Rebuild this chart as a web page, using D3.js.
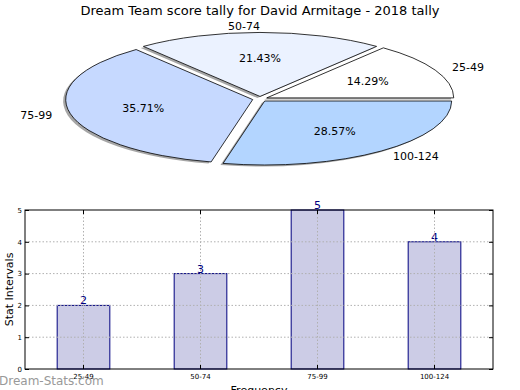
<!DOCTYPE html>
<html lang="en">
<head>
  <meta charset="UTF-8">
  <title>Dream Team score tally</title>
  <script src="https://d3js.org/d3.v7.min.js"></script>
  <style>
    body { margin: 0; background: #fff; }
    svg { font-family: "DejaVu Sans", sans-serif; }
    .grid line { stroke: #b0b0b0; stroke-dasharray: 1.5 2; stroke-width: 1; }
  </style>
</head>
<body>
  <svg id="chart" width="520" height="390"></svg>
  <script>
    // data
    const categories = ['25-49', '50-74', '75-99', '100-124'];
    const counts = [2, 3, 5, 4];
    const pieColors = ['#ffffff', '#ebf2ff', '#c6d9ff', '#b3d5ff'];
    const yTicks = [0, 1, 2, 3, 4, 5];

    const svg = d3.select('#chart');

    svg.append('text')
      .attr('x', 260).attr('y', 15)
      .attr('text-anchor', 'middle')
      .attr('font-size', 13)
      .text('Dream Team score tally for David Armitage - 2018 tally');

    // ---- pie (squashed like the matplotlib one) ----
    const cx = 260, cy = 99, rx = 187, ry = 64, explode = 0.04;
    const total = d3.sum(counts);

    // d3 angles run clockwise from 12 o'clock, go the other way from 3 o'clock
    const pie = d3.pie().sort(null).startAngle(Math.PI / 2).endAngle(Math.PI / 2 - 2 * Math.PI);
    const arcs = pie(counts).map((d, i) => {
      const t1 = Math.PI / 2 - d.startAngle;
      const t2 = Math.PI / 2 - d.endAngle;
      const mid = (t1 + t2) / 2;
      return {
        i, value: d.value, t1, t2, mid,
        ox: explode * rx * Math.cos(mid),
        oy: -explode * ry * Math.sin(mid)
      };
    });

    function wedgePath(a) {
      const x0 = cx + a.ox, y0 = cy + a.oy;
      const p = d3.path();
      p.moveTo(x0, y0);
      p.lineTo(x0 + rx * Math.cos(a.t1), y0 - ry * Math.sin(a.t1));
      const large = (a.t2 - a.t1) > Math.PI ? 1 : 0;
      return p.toString() +
        `A${rx},${ry} 0 ${large} 0 ${x0 + rx * Math.cos(a.t2)},${y0 - ry * Math.sin(a.t2)}Z`;
    }

    const pieG = svg.append('g');
    pieG.selectAll('path.shadow')
      .data(arcs).join('path')
      .attr('class', 'shadow')
      .attr('d', wedgePath)
      .attr('transform', 'translate(-2.6,1.6)')
      .attr('fill', '#4d4d4d')
      .attr('fill-opacity', 0.5);

    pieG.selectAll('path.wedge')
      .data(arcs).join('path')
      .attr('class', 'wedge')
      .attr('d', wedgePath)
      .attr('fill', d => pieColors[d.i])
      .attr('stroke', '#000')
      .attr('stroke-width', 0.8)
      .attr('stroke-linejoin', 'round');

    pieG.selectAll('text.pct')
      .data(arcs).join('text')
      .attr('class', 'pct')
      .attr('x', d => cx + d.ox + 0.6 * rx * Math.cos(d.mid))
      .attr('y', d => cy + d.oy - 0.6 * ry * Math.sin(d.mid))
      .attr('dy', '0.35em')
      .attr('text-anchor', 'middle')
      .attr('font-size', 11)
      .text(d => (d.value / total * 100).toFixed(2) + '%');

    pieG.selectAll('text.lab')
      .data(arcs).join('text')
      .attr('class', 'lab')
      .attr('x', d => cx + d.ox + 1.1 * rx * Math.cos(d.mid))
      .attr('y', d => cy + d.oy - 1.1 * ry * Math.sin(d.mid))
      .attr('dy', '0.35em')
      .attr('text-anchor', d => Math.cos(d.mid) > 1e-9 ? 'start' : 'end')
      .attr('font-size', 11)
      .text(d => categories[d.i]);

    // ---- bar chart ----
    const plotL = 25, plotR = 493, plotT = 210, plotB = 369;
    const x = d3.scaleBand().domain(categories).range([plotL, plotR])
      .paddingInner(0.55).paddingOuter(0.275);
    const y = d3.scaleLinear().domain([0, 5]).range([plotB, plotT]);

    const bars = svg.append('g');
    bars.selectAll('rect')
      .data(counts).join('rect')
      .attr('x', (d, i) => x(categories[i]))
      .attr('y', d => y(d))
      .attr('width', x.bandwidth())
      .attr('height', d => y(0) - y(d))
      .attr('fill', '#ccccE6')
      .attr('stroke', '#000080')
      .attr('stroke-width', 1);

    const grid = svg.append('g').attr('class', 'grid');
    grid.selectAll('line.gy')
      .data(yTicks.slice(1, -1)).join('line')
      .attr('class', 'gy')
      .attr('x1', plotL).attr('x2', plotR)
      .attr('y1', d => y(d)).attr('y2', d => y(d));
    grid.selectAll('line.gx')
      .data(categories).join('line')
      .attr('class', 'gx')
      .attr('x1', d => x(d) + x.bandwidth() / 2).attr('x2', d => x(d) + x.bandwidth() / 2)
      .attr('y1', plotT).attr('y2', plotB);

    bars.selectAll('text')
      .data(counts).join('text')
      .attr('x', (d, i) => x(categories[i]) + x.bandwidth() / 2)
      .attr('y', d => y(d) - 1)
      .attr('text-anchor', 'middle')
      .attr('font-size', 11)
      .attr('fill', '#000080')
      .text(d => d);

    const yAxis = svg.append('g')
      .attr('transform', `translate(${plotL},0)`)
      .call(d3.axisLeft(y).tickValues(yTicks).tickFormat(d3.format('d')).tickSize(-4).tickPadding(3));
    yAxis.select('.domain').remove();
    yAxis.selectAll('text').attr('font-size', 7).attr('font-family', '"DejaVu Sans", sans-serif');

    const yAxisR = svg.append('g')
      .attr('transform', `translate(${plotR},0)`)
      .call(d3.axisRight(y).tickValues(yTicks).tickSize(-4).tickFormat(''));
    yAxisR.select('.domain').remove();

    const xAxis = svg.append('g')
      .attr('transform', `translate(0,${plotB})`)
      .call(d3.axisBottom(x).tickSize(-4).tickPadding(5));
    xAxis.select('.domain').remove();
    xAxis.selectAll('text').attr('font-size', 7).attr('font-family', '"DejaVu Sans", sans-serif');

    const xAxisT = svg.append('g')
      .attr('transform', `translate(0,${plotT})`)
      .call(d3.axisTop(x).tickSize(-4).tickFormat(''));
    xAxisT.select('.domain').remove();

    svg.append('rect')
      .attr('x', plotL).attr('y', plotT)
      .attr('width', plotR - plotL).attr('height', plotB - plotT)
      .attr('fill', 'none').attr('stroke', '#000').attr('stroke-width', 1);

    svg.append('text')
      .attr('transform', `translate(13,${(plotT + plotB) / 2}) rotate(-90)`)
      .attr('text-anchor', 'middle')
      .attr('font-size', 11)
      .text('Stat Intervals');

    svg.append('text')
      .attr('x', 259).attr('y', 394)
      .attr('text-anchor', 'middle')
      .attr('font-size', 11)
      .text('Frequency');

    // watermark, sits on top of the first tick label like the original
    svg.append('text')
      .attr('x', -1).attr('y', 385)
      .attr('font-size', 12)
      .attr('fill', '#999999')
      .text('Dream-Stats.com');
  </script>
</body>
</html>
